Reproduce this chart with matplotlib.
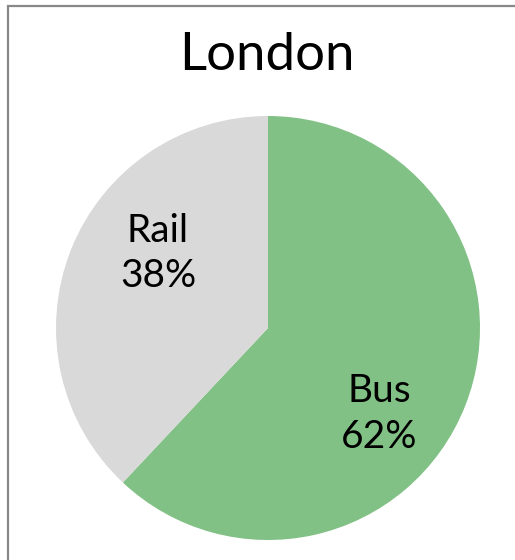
import matplotlib
matplotlib.use("Agg")
import matplotlib.pyplot as plt
from matplotlib.patches import Rectangle

title = "London"
categories = ["Bus", "Rail"]
shares = [62, 38]
colors = ["#81C185", "#D9D9D9"]

plt.rcParams["font.family"] = ["Lato", "DejaVu Sans"]

W, H = 515, 560
fig = plt.figure(figsize=(W / 100, H / 100), dpi=100)
fig.patch.set_facecolor("white")

# chart frame, open past the right and bottom edges
fig.patches.append(Rectangle((7.5 / W, -0.1), 1.2, 1.1 - 5.5 / H,
                             transform=fig.transFigure, fill=False,
                             edgecolor="#888888", linewidth=1.6))

cx, cy, r = 268, 328, 212
ax = fig.add_axes([(cx - r) / W, (H - cy - r) / H, 2 * r / W, 2 * r / H])
wedges, _ = ax.pie(shares, colors=colors, startangle=90, counterclock=False,
                   radius=1.0, wedgeprops=dict(linewidth=0))
ax.set_xlim(-1, 1)
ax.set_ylim(-1, 1)
ax.set_aspect("equal")
ax.axis("off")

label_pos = {"Bus": (0.524, -0.405), "Rail": (-0.519, 0.35)}
for cat, val in zip(categories, shares):
    x, y = label_pos[cat]
    ax.text(x, y, f"{cat}\n{val}%", ha="center", va="center",
            fontsize=28, color="black", linespacing=1.32)

fig.text(267 / W, 1 - 56 / H, title, ha="center", va="center",
         fontsize=38, color="black")

fig.savefig("out.png", dpi=100)
